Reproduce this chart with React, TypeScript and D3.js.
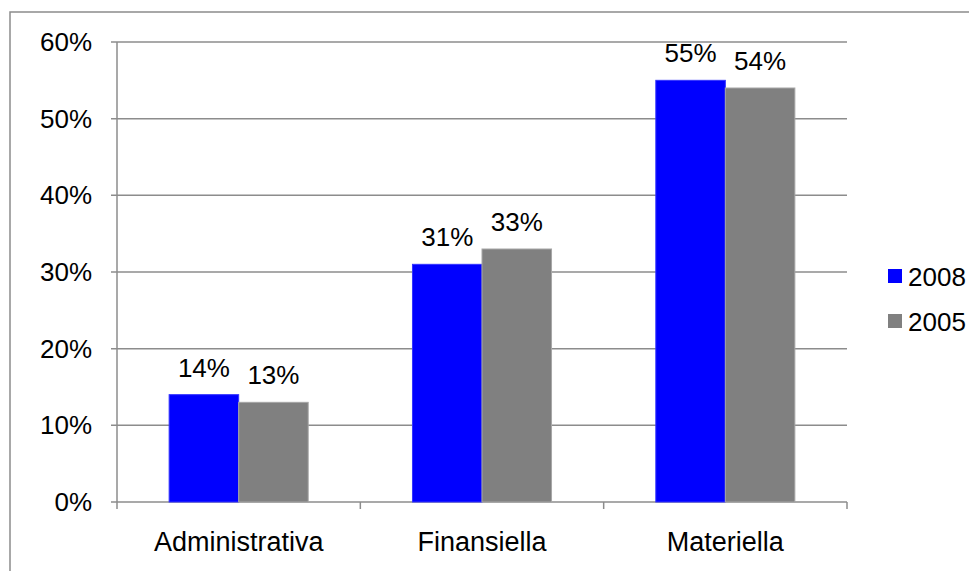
import React from "react";
import * as d3 from "d3";

// Share of deficiencies by type, two survey years
const categories = ["Administrativa", "Finansiella", "Materiella"];
const seriesNames = ["2008", "2005"];
const values2008 = [14, 31, 55];
const values2005 = [13, 33, 54];
const yTicks = [0, 10, 20, 30, 40, 50, 60];

const seriesColors: Record<string, string> = { "2008": "#0000FF", "2005": "#808080" };
const seriesEdge: Record<string, string> = { "2008": "#3333ff", "2005": "#a6a6a6" };

const W = 977;
const H = 579;
const plot = { left: 117, right: 847, top: 42, bottom: 502 };
const FONT = "'Liberation Sans', Arial, sans-serif";
const FS = 26;
const GRID = "#8c8c8c";

export default function App() {
  const x = d3.scaleBand<string>().domain(categories).range([plot.left, plot.right]).padding(0);
  const xs = d3
    .scaleBand<string>()
    .domain(seriesNames)
    .range([0, x.bandwidth()])
    .paddingInner(0)
    .paddingOuter(0.75);
  const y = d3.scaleLinear().domain([0, 60]).range([plot.bottom, plot.top]);

  const rows = seriesNames.map((s, si) => ({
    name: s,
    values: si === 0 ? values2008 : values2005,
  }));

  return (
    <div style={{ margin: -8, width: W, height: H, overflow: "hidden", background: "#fff" }}>
      <svg width={W} height={H} style={{ display: "block" }} fontFamily={FONT}>
        {/* chart frame, running past the right and bottom edges */}
        <rect x={10} y={12} width={W + 20} height={H + 20} fill="#fff" stroke={GRID} strokeWidth={1.5} />

        {/* horizontal gridlines and y-axis ticks */}
        {yTicks.map((t) => (
          <g key={t}>
            <line x1={plot.left - 6} x2={plot.right} y1={y(t)} y2={y(t)} stroke={GRID} strokeWidth={1.5} />
            <text x={92} y={y(t)} dy="0.35em" textAnchor="end" fontSize={FS} fill="#000">
              {t}%
            </text>
          </g>
        ))}
        {/* y axis */}
        <line x1={plot.left} x2={plot.left} y1={plot.top} y2={plot.bottom} stroke={GRID} strokeWidth={1.5} />

        {/* category ticks and labels */}
        {[...categories.map((c) => x(c) as number), plot.right].map((px, i) => (
          <line key={i} x1={px} x2={px} y1={plot.bottom} y2={plot.bottom + 7} stroke={GRID} strokeWidth={1.5} />
        ))}
        {categories.map((c) => (
          <text
            key={c}
            x={(x(c) as number) + x.bandwidth() / 2}
            y={551}
            textAnchor="middle"
            fontSize={27}
            fill="#000"
          >
            {c}
          </text>
        ))}

        {/* bars with value labels */}
        {rows.map((r) =>
          categories.map((c, ci) => {
            const v = r.values[ci];
            const bx = (x(c) as number) + (xs(r.name) as number);
            const by = y(v);
            return (
              <g key={r.name + c}>
                <rect
                  x={bx}
                  y={by}
                  width={xs.bandwidth()}
                  height={plot.bottom - by}
                  fill={seriesColors[r.name]}
                  stroke={seriesEdge[r.name]}
                  strokeWidth={1}
                />
                <text x={bx + xs.bandwidth() / 2} y={by - 18} textAnchor="middle" fontSize={FS} fill="#000">
                  {v}%
                </text>
              </g>
            );
          })
        )}

        {/* legend */}
        {seriesNames.map((s, i) => (
          <g key={s} transform={`translate(888, ${269 + i * 45})`}>
            <rect width={14} height={14} fill={seriesColors[s]} />
            <text x={20} y={17} fontSize={FS} fill="#000">
              {s}
            </text>
          </g>
        ))}
      </svg>
    </div>
  );
}
